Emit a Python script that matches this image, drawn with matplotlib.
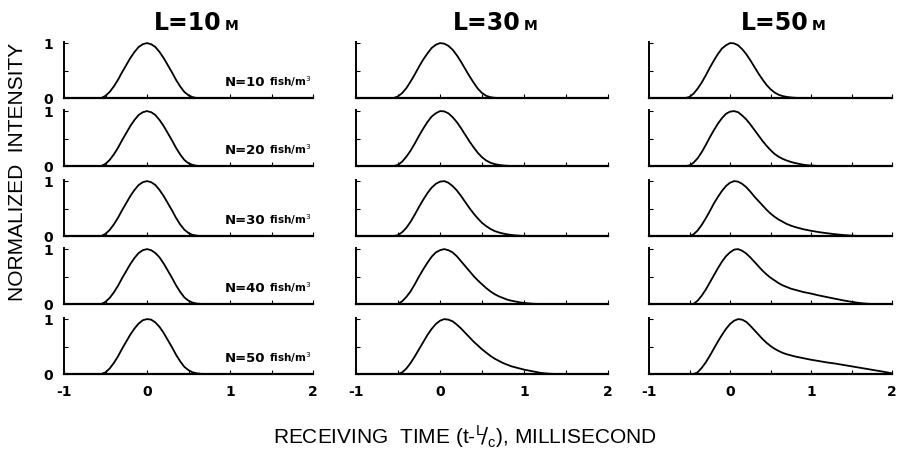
# echo pulses received through fish schools, normalized intensity vs time
import matplotlib
matplotlib.use('Agg')
import matplotlib.pyplot as plt
from matplotlib.offsetbox import TextArea, HPacker, AnchoredOffsetbox

# receiving time grid (ms)
t = [-1.0, -0.6, -0.55, -0.5, -0.45, -0.4, -0.35, -0.3, -0.25, -0.2, -0.15,
     -0.1, -0.05, 0.0, 0.05, 0.1, 0.15, 0.2, 0.25, 0.3, 0.35, 0.4, 0.45,
     0.5, 0.55, 0.6, 0.65, 0.7, 0.75, 0.8, 0.85, 0.9, 0.95, 1.0,
     1.1, 1.2, 1.3, 1.4, 1.5, 1.6, 1.7, 1.8, 1.9, 2.0]

distances = ['10', '30', '50']
densities = ['10', '20', '30', '40', '50']

# L = 10 m
l10_n10 = [0, 0, 0, 0.04, 0.11, 0.21, 0.33, 0.47, 0.60, 0.73, 0.84, 0.93, 0.98, 1.0,
           0.98, 0.93, 0.84, 0.73, 0.60, 0.47, 0.33, 0.21, 0.11, 0.05, 0.015, 0,
           0, 0, 0, 0, 0, 0, 0, 0, 0, 0, 0, 0, 0, 0, 0, 0, 0, 0]
l10_n20 = [0, 0, 0, 0.04, 0.11, 0.21, 0.33, 0.47, 0.60, 0.73, 0.84, 0.93, 0.98, 1.0,
           0.98, 0.93, 0.84, 0.73, 0.60, 0.47, 0.33, 0.21, 0.11, 0.05, 0.02, 0.003,
           0, 0, 0, 0, 0, 0, 0, 0, 0, 0, 0, 0, 0, 0, 0, 0, 0, 0]
l10_n30 = [0, 0, 0, 0.04, 0.11, 0.21, 0.33, 0.47, 0.60, 0.73, 0.84, 0.93, 0.98, 1.0,
           0.98, 0.93, 0.84, 0.73, 0.60, 0.47, 0.33, 0.21, 0.115, 0.055, 0.02, 0.006,
           0, 0, 0, 0, 0, 0, 0, 0, 0, 0, 0, 0, 0, 0, 0, 0, 0, 0]
l10_n40 = [0, 0, 0, 0.04, 0.11, 0.21, 0.33, 0.47, 0.60, 0.73, 0.84, 0.93, 0.98, 1.0,
           0.98, 0.93, 0.85, 0.74, 0.61, 0.48, 0.34, 0.22, 0.12, 0.06, 0.025, 0.008,
           0.002, 0, 0, 0, 0, 0, 0, 0, 0, 0, 0, 0, 0, 0, 0, 0, 0, 0]
l10_n50 = [0, 0, 0, 0.03, 0.10, 0.20, 0.32, 0.46, 0.59, 0.72, 0.83, 0.92, 0.98, 1.0,
           0.99, 0.94, 0.86, 0.75, 0.62, 0.49, 0.35, 0.23, 0.13, 0.07, 0.03, 0.012,
           0.003, 0, 0, 0, 0, 0, 0, 0, 0, 0, 0, 0, 0, 0, 0, 0, 0, 0]

# L = 30 m
l30_n10 = [0, 0, 0, 0.03, 0.09, 0.18, 0.30, 0.43, 0.57, 0.70, 0.81, 0.91, 0.97, 1.0,
           0.99, 0.95, 0.88, 0.78, 0.66, 0.53, 0.40, 0.28, 0.17, 0.09, 0.04, 0.015,
           0.004, 0, 0, 0, 0, 0, 0, 0, 0, 0, 0, 0, 0, 0, 0, 0, 0, 0]
l30_n20 = [0, 0, 0, 0.02, 0.08, 0.17, 0.28, 0.41, 0.55, 0.68, 0.80, 0.90, 0.96, 1.0,
           0.995, 0.96, 0.89, 0.80, 0.69, 0.57, 0.45, 0.34, 0.24, 0.16, 0.10, 0.06,
           0.035, 0.02, 0.01, 0.004, 0, 0, 0, 0, 0, 0, 0, 0, 0, 0, 0, 0, 0, 0]
l30_n30 = [0, 0, 0, 0.015, 0.07, 0.15, 0.26, 0.39, 0.53, 0.66, 0.78, 0.88, 0.95, 0.99,
           1.0, 0.97, 0.91, 0.83, 0.73, 0.62, 0.51, 0.41, 0.32, 0.24, 0.18, 0.13,
           0.09, 0.065, 0.045, 0.03, 0.02, 0.01, 0.005, 0, 0, 0, 0, 0, 0, 0, 0, 0, 0, 0]
l30_n40 = [0, 0, 0, 0, 0.05, 0.13, 0.23, 0.36, 0.50, 0.63, 0.75, 0.86, 0.94, 0.98,
           1.0, 0.98, 0.94, 0.87, 0.78, 0.69, 0.60, 0.51, 0.43, 0.36, 0.29, 0.23,
           0.18, 0.14, 0.11, 0.08, 0.06, 0.045, 0.03, 0.02, 0.005, 0, 0, 0, 0, 0, 0, 0, 0, 0]
l30_n50 = [0, 0, 0, 0, 0.03, 0.10, 0.20, 0.32, 0.45, 0.58, 0.71, 0.82, 0.91, 0.97,
           1.0, 0.99, 0.96, 0.90, 0.83, 0.75, 0.67, 0.59, 0.52, 0.45, 0.39, 0.33,
           0.28, 0.24, 0.20, 0.17, 0.14, 0.12, 0.10, 0.08, 0.05, 0.02, 0.005, 0, 0, 0, 0, 0, 0, 0]

# L = 50 m
l50_n10 = [0, 0, 0, 0.02, 0.08, 0.17, 0.28, 0.41, 0.55, 0.68, 0.80, 0.90, 0.96, 1.0,
           0.995, 0.96, 0.89, 0.80, 0.69, 0.57, 0.45, 0.34, 0.24, 0.16, 0.10, 0.06,
           0.035, 0.02, 0.01, 0.004, 0, 0, 0, 0, 0, 0, 0, 0, 0, 0, 0, 0, 0, 0]
l50_n20 = [0, 0, 0, 0.01, 0.06, 0.14, 0.25, 0.38, 0.52, 0.65, 0.77, 0.87, 0.95, 0.99,
           1.0, 0.98, 0.92, 0.85, 0.76, 0.66, 0.56, 0.46, 0.37, 0.29, 0.22, 0.17,
           0.13, 0.10, 0.075, 0.055, 0.04, 0.025, 0.015, 0.008, 0, 0, 0, 0, 0, 0, 0, 0, 0, 0]
l50_n30 = [0, 0, 0, 0, 0.03, 0.10, 0.20, 0.32, 0.45, 0.59, 0.71, 0.82, 0.91, 0.97,
           1.0, 0.99, 0.95, 0.89, 0.81, 0.72, 0.64, 0.56, 0.48, 0.41, 0.35, 0.30,
           0.26, 0.22, 0.19, 0.165, 0.145, 0.125, 0.11, 0.095, 0.07, 0.05, 0.032, 0.018,
           0.007, 0, 0, 0, 0, 0]
l50_n40 = [0, 0, 0, 0, 0, 0.06, 0.15, 0.26, 0.39, 0.52, 0.65, 0.77, 0.87, 0.94,
           0.99, 1.0, 0.97, 0.92, 0.85, 0.77, 0.69, 0.61, 0.54, 0.48, 0.43, 0.38,
           0.34, 0.31, 0.28, 0.26, 0.24, 0.22, 0.205, 0.19, 0.155, 0.125, 0.095, 0.065,
           0.04, 0.018, 0.004, 0, 0, 0]
l50_n50 = [0, 0, 0, 0, 0, 0.03, 0.11, 0.21, 0.33, 0.46, 0.59, 0.71, 0.82, 0.91,
           0.97, 1.0, 0.99, 0.95, 0.88, 0.80, 0.72, 0.64, 0.57, 0.51, 0.46, 0.42,
           0.385, 0.36, 0.34, 0.32, 0.305, 0.29, 0.275, 0.26, 0.235, 0.21, 0.19, 0.165,
           0.14, 0.115, 0.09, 0.065, 0.04, 0.012]

curves = [[l10_n10, l10_n20, l10_n30, l10_n40, l10_n50],
          [l30_n10, l30_n20, l30_n30, l30_n40, l30_n50],
          [l50_n10, l50_n20, l50_n30, l50_n40, l50_n50]]

W, H = 899, 450
# panel placement in pixels
col_left = [64, 356, 649]
col_right = [313, 608, 892]
row_zero = [98, 166, 236, 304, 374]
row_h = 56
title_x = [196, 495, 783]

label_font = ['Liberation Sans Narrow', 'Liberation Sans', 'DejaVu Sans']


def main():
    fig = plt.figure(figsize=(W / 100, H / 100), dpi=100)
    for c in range(3):
        for r in range(5):
            x0 = col_left[c] / W
            w = (col_right[c] - col_left[c]) / W
            y0 = (H - row_zero[r]) / H
            ax = fig.add_axes([x0, y0, w, row_h / H])
            ax.plot(t, curves[c][r], color='black', lw=1.3, clip_on=False)
            ax.set_xlim(-1, 2)
            ax.set_ylim(0, 1.02)
            ax.spines['top'].set_visible(False)
            ax.spines['right'].set_visible(False)
            ax.spines['left'].set_linewidth(1.4)
            ax.spines['bottom'].set_linewidth(1.6)
            ax.set_xticks([-1, 0, 1, 2])
            ax.set_xticks([-0.5, 0.5, 1.5], minor=True)
            ax.set_yticks([0, 1])
            ax.set_yticks([0.5], minor=True)
            ax.tick_params(which='both', direction='in', length=3, width=0.8, pad=8)
            if c == 0:
                ax.set_yticklabels(['0', '1'], fontsize=10, fontweight='bold')
                # density label
                box = HPacker(children=[
                    TextArea('N=' + densities[r],
                             textprops=dict(fontsize=9.5, fontweight='bold')),
                    TextArea('fish/m$^3$',
                             textprops=dict(fontsize=7.5, fontweight='bold'))],
                    align='baseline', pad=0, sep=3)
                ab = AnchoredOffsetbox(loc='center right', child=box, pad=0,
                                       borderpad=0, frameon=False,
                                       bbox_to_anchor=(0.995, 0.29),
                                       bbox_transform=ax.transAxes)
                ax.add_artist(ab)
            else:
                ax.tick_params(labelleft=False)
            if r == 4:
                ax.set_xticklabels(['-1', '0', '1', '2'], fontsize=10, fontweight='bold')
            else:
                ax.tick_params(labelbottom=False)
            if r == 0:
                # column title
                tbox = HPacker(children=[
                    TextArea('L=' + distances[c],
                             textprops=dict(fontsize=17, fontweight='bold')),
                    TextArea('M', textprops=dict(fontsize=10, fontweight='bold'))],
                    align='baseline', pad=0, sep=2)
                tb = AnchoredOffsetbox(loc='center', child=tbox, pad=0, borderpad=0,
                                       frameon=False,
                                       bbox_to_anchor=(title_x[c] / W, 1 - 23 / H),
                                       bbox_transform=fig.transFigure)
                ax.add_artist(tb)

    fig.text(18 / W, 1 - 172 / H, 'NORMALIZED  INTENSITY', rotation=90,
             ha='center', va='center', fontsize=15, family=label_font)
    fig.text(465 / W, 1 - 437 / H,
             r'RECEIVING  TIME (t-${}^{\mathregular{L}}\!/{}_{\mathregular{c}}$), MILLISECOND',
             ha='center', va='center', fontsize=15, family=label_font)
    fig.savefig('out.png', dpi=100)


if __name__ == '__main__':
    main()
